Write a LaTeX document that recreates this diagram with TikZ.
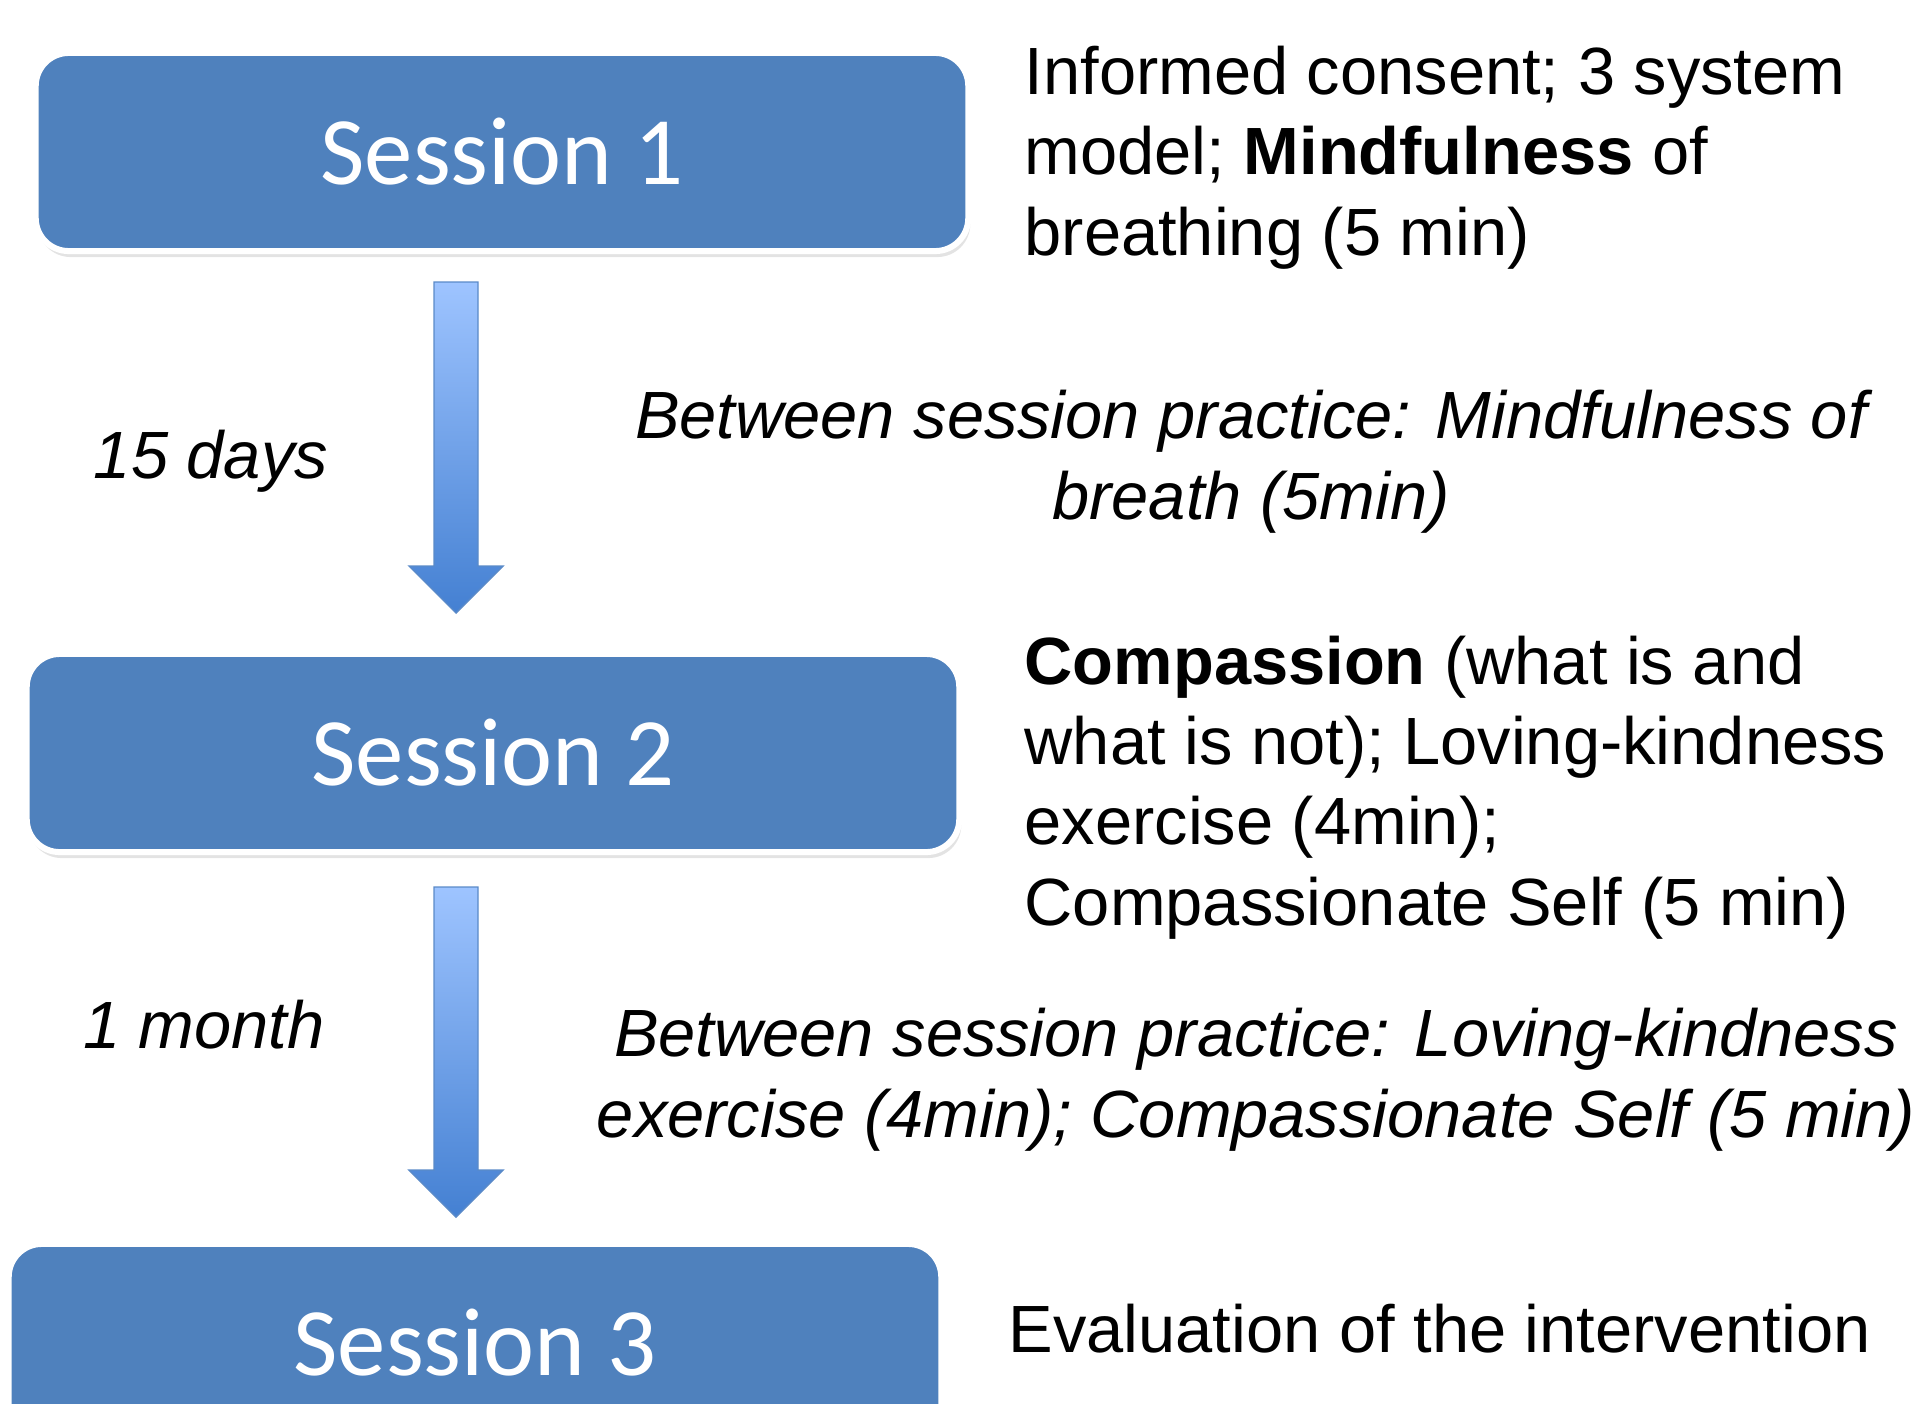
\documentclass[tikz,border=0pt]{standalone}
\usepackage{fontspec}
\setmainfont{Liberation Sans}
\newfontfamily\sessionfont{Carlito}
\usetikzlibrary{calc, shadows}

\definecolor{boxblue}{HTML}{4F81BD}
\definecolor{arrowlight}{HTML}{9EC4FF}
\definecolor{arrowdark}{HTML}{4480D2}
\definecolor{arrowline}{HTML}{5A8AC8}

% block arrow from the top of its shaft (#1) down to its tip (#2)
\newcommand{\blockdown}[2]{%
  \path[blockarrow] ($(#1)+(-22,0)$) -- ($(#1)+(22,0)$) -- ($(#2)+(22,-47)$)
    -- ($(#2)+(47,-47)$) -- (#2) -- ($(#2)+(-47,-47)$) -- ($(#2)+(-22,-47)$) -- cycle;}

\begin{document}
\begin{tikzpicture}[
    x=0.01cm, y=-0.01cm,
    session/.style={rounded corners=0.33cm, fill=boxblue, draw=white, line width=0.06cm,
      minimum width=9.32cm, minimum height=1.98cm, text=white,
      font=\sessionfont\fontsize{27.5}{30}\selectfont,
      drop shadow={opacity=0.22, shadow xshift=0.02cm, shadow yshift=-0.06cm}},
    % multi-line notes sit on the baseline of their last line
    note/.style={anchor=base west, align=left, inner sep=0pt,
      font=\fontsize{19}{22.8}\selectfont},
    practice/.style={anchor=base, align=center, inner sep=0pt,
      font=\itshape\fontsize{19}{22.8}\selectfont},
    gap/.style={anchor=base, inner sep=0pt, font=\itshape\fontsize{19}{22.8}\selectfont},
    blockarrow/.style={top color=arrowlight, bottom color=arrowdark, draw=arrowline,
      line width=0.4pt}
  ]
  \clip (0,0) rectangle (1922,1403);

  % sessions
  \node[session] (s1) at (502,152) {Session 1};
  \node[session] (s2) at (493,753) {Session 2};
  \node[session] (s3) at (475,1343) {Session 3};

  % arrows between the sessions
  \coordinate (top1) at (456,282);
  \coordinate (tip1) at (456,613);
  \coordinate (top2) at (456,887);
  \coordinate (tip2) at (456,1217);
  \blockdown{top1}{tip1}
  \blockdown{top2}{tip2}

  \node[gap] (gap1) at (211,478) {15 days};
  \node[gap] (gap2) at (204,1048) {1 month};

  % contents of each session
  \node[note] (info1) at (1024,255) {Informed consent; 3 system\\
    model; \textbf{Mindfulness} of\\breathing (5 min)};
  \node[note] (info2) at (1024,925) {\textbf{Compassion} (what is and\\
    what is not); Loving-kindness\\exercise (4min);\\Compassionate Self (5 min)};
  \node[note] (info3) at (1008,1352) {Evaluation of the intervention};

  % practice between sessions
  \node[practice] (prac1) at (1251,519) {Between session practice: Mindfulness of\\
    breath (5min)};
  \node[practice] (prac2) at (1256,1137) {Between session practice: Loving-kindness\\
    exercise (4min); Compassionate Self (5 min)};
\end{tikzpicture}
\end{document}
